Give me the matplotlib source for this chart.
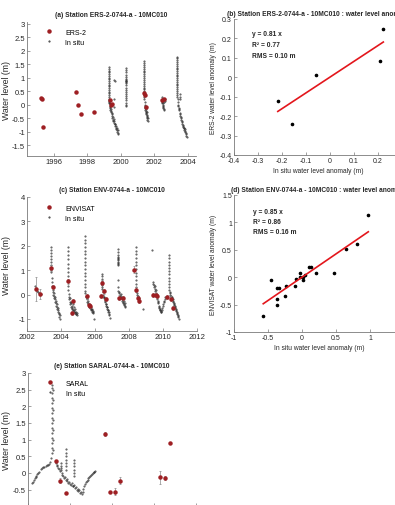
import matplotlib
matplotlib.use("Agg")
import matplotlib.pyplot as plt
from matplotlib.ticker import FuncFormatter, MultipleLocator

plt.rcParams['font.family'] = ['Liberation Sans', 'DejaVu Sans']
plt.rcParams['axes.unicode_minus'] = False

# ---------------- data ----------------
# (a) ERS-2 altimetry
ers_x = [1995.26, 1995.27, 1995.36, 1997.30, 1997.42, 1997.60, 1998.40, 1999.34, 1999.40, 1999.48,
         2001.42, 2001.44, 2001.50, 2002.46, 2002.56]
ers_y = [0.25, 0.20, -0.83, 0.48, -0.02, -0.35, -0.27, 0.16, 0.00, 0.02,
         0.43, 0.35, -0.09, 0.16, 0.22]

# (a) in situ
insitu_a_x = ([1999.29] * 20 +
              [1999.31, 1999.32, 1999.33, 1999.34, 1999.35, 1999.36, 1999.37, 1999.38, 1999.39, 1999.40,
               1999.42, 1999.43, 1999.45, 1999.46, 1999.48, 1999.50, 1999.51, 1999.53, 1999.55, 1999.57,
               1999.59, 1999.61, 1999.63, 1999.65, 1999.67, 1999.69, 1999.71, 1999.73, 1999.75, 1999.77,
               1999.79, 1999.81, 1999.83, 1999.84, 1999.62, 1999.64, 1999.60, 1999.62] +
              [2000.34] * 22 +
              [2001.38] * 18 +
              [2001.40, 2001.41, 2001.42, 2001.43, 2001.44, 2001.45, 2001.46, 2001.47, 2001.48, 2001.50,
               2001.51, 2001.52, 2001.53, 2001.54, 2001.55, 2001.56, 2001.57, 2001.58, 2001.59, 2001.60,
               2001.61, 2001.62] +
              [2002.45, 2002.46, 2002.47, 2002.48, 2002.49, 2002.50, 2002.51, 2002.52, 2002.53, 2002.55,
               2002.57, 2002.59, 2002.61, 2002.63, 2002.64] +
              [2003.35] * 22 +
              [2003.38, 2003.40, 2003.42, 2003.43, 2003.45, 2003.47, 2003.49, 2003.51, 2003.53, 2003.55,
               2003.57, 2003.59, 2003.61, 2003.63, 2003.65, 2003.67, 2003.69, 2003.71, 2003.73, 2003.75,
               2003.77, 2003.79, 2003.81, 2003.83, 2003.85, 2003.87, 2003.89, 2003.91, 2003.93, 2003.95,
               2003.55, 2003.56, 2003.57])
insitu_a_y = ([1.40, 1.34, 1.27, 1.21, 1.14, 1.08, 1.01, 0.95, 0.88, 0.82,
               0.75, 0.69, 0.62, 0.56, 0.49, 0.43, 0.36, 0.30, 0.23, 0.17] +
              [0.12, 0.08, 0.15, 0.02, -0.05, 0.05, -0.12, -0.08, -0.20, -0.15,
               -0.28, -0.22, -0.35, -0.30, -0.42, -0.50, -0.45, -0.55, -0.60, -0.52,
               -0.68, -0.62, -0.72, -0.78, -0.70, -0.85, -0.80, -0.90, -0.95, -0.88,
               -1.00, -1.05, -0.95, -1.10, 0.93, 0.90, 0.20, -0.10] +
              [1.35, 1.28, 1.20, 1.12, 1.04, 0.96, 0.92, 0.90, 0.88, 0.85, 0.80,
               0.72, 0.64, 0.56, 0.48, 0.40, 0.32, 0.24, 0.16, 0.08, 0.00, -0.03] +
              [1.62, 1.55, 1.48, 1.41, 1.34, 1.27, 1.20, 1.13, 1.06, 0.99,
               0.92, 0.85, 0.78, 0.71, 0.64, 0.57, 0.50, 0.43] +
              [0.38, 0.30, 0.20, 0.10, 0.00, -0.05, -0.12, -0.08, -0.18, -0.22,
               -0.15, -0.30, -0.26, -0.35, -0.28, -0.40, -0.45, -0.38, -0.50, -0.55,
               -0.48, -0.62] +
              [0.30, 0.22, 0.15, 0.10, 0.05, 0.00, -0.05, -0.10, 0.08, -0.12,
               -0.15, -0.20, 0.10, 0.20, 0.15] +
              [1.78, 1.72, 1.65, 1.58, 1.52, 1.45, 1.38, 1.32, 1.25, 1.18, 1.12,
               1.05, 0.98, 0.92, 0.85, 0.78, 0.72, 0.65, 0.58, 0.52, 0.45, 0.38] +
              [0.30, 0.20, 0.10, 0.00, -0.05, -0.12, -0.20, -0.15, -0.30, -0.35,
               -0.42, -0.50, -0.45, -0.58, -0.62, -0.70, -0.65, -0.78, -0.82, -0.75,
               -0.88, -0.92, -0.85, -0.98, -1.00, -0.90, -1.05, -1.10, -1.15, -1.20,
               0.40, 0.30, 0.20])

# (b) ERS-2 anomaly scatter
b_insitu = [-0.217, -0.156, -0.057, 0.210, 0.224]
b_alti = [-0.122, -0.238, 0.014, 0.082, 0.250]
b_slope = 0.81
b_stats = ["y = 0.81 x", "R² = 0.77", "RMS = 0.10 m"]

# (c) ENVISAT altimetry
env_x = [2002.52, 2002.74, 2003.40, 2003.50, 2004.43, 2004.62, 2004.70, 2005.53, 2005.65, 2005.73,
         2006.33, 2006.43, 2006.52, 2006.62, 2007.40, 2007.67, 2008.31, 2008.41, 2008.50, 2008.60,
         2009.44, 2009.57, 2009.65, 2010.25, 2010.45, 2010.60]
env_y = [0.22, 0.04, 1.09, 0.31, 0.55, -0.74, -0.26, -0.07, -0.41, -0.45,
         -0.04, 0.48, 0.14, -0.19, -0.12, -0.12, 1.02, 0.20, -0.12, -0.27,
         0.00, 0.00, -0.05, -0.10, -0.16, -0.55]
env_err = [0.50, 0.20, 0.12, 0.10, 0.10, 0.08, 0.10, 0.10, 0.08, 0.08,
           0.08, 0.10, 0.10, 0.08, 0.10, 0.08, 0.15, 0.10, 0.08, 0.08,
           0.08, 0.08, 0.08, 0.08, 0.10, 0.08]

# (c) in situ
insitu_c_x = ([2002.45, 2002.50, 2002.55, 2002.60, 2002.65, 2002.70, 2002.75, 2002.80] +
              [2003.40] * 10 +
              [2003.45, 2003.47, 2003.49, 2003.51, 2003.53, 2003.55, 2003.57, 2003.59, 2003.61, 2003.63,
               2003.65, 2003.67, 2003.69, 2003.71, 2003.73, 2003.75, 2003.77, 2003.79, 2003.81, 2003.83,
               2003.85, 2003.87, 2003.89, 2003.91, 2003.93, 2003.95] +
              [2004.41] * 12 +
              [2004.45, 2004.47, 2004.49, 2004.51, 2004.53, 2004.55, 2004.57, 2004.59, 2004.61, 2004.63,
               2004.65, 2004.67, 2004.69, 2004.71, 2004.73, 2004.75, 2004.77, 2004.79, 2004.81, 2004.83,
               2004.85, 2004.87, 2004.89, 2004.91, 2004.93, 2004.95] +
              [2005.40] * 16 +
              [2005.44, 2005.46, 2005.48, 2005.50, 2005.52, 2005.54, 2005.56, 2005.58, 2005.60, 2005.62,
               2005.64, 2005.66, 2005.68, 2005.70, 2005.72, 2005.74, 2005.76, 2005.78, 2005.80, 2005.82,
               2005.84, 2005.86, 2005.88, 2005.90, 2005.95] +
              [2006.40] * 7 +
              [2006.44, 2006.46, 2006.48, 2006.50, 2006.52, 2006.54, 2006.56, 2006.58, 2006.60, 2006.62,
               2006.64, 2006.66, 2006.68, 2006.70, 2006.72, 2006.74, 2006.76, 2006.78, 2006.80, 2006.82,
               2006.84, 2006.86] +
              [2007.38] * 14 +
              [2007.42, 2007.44, 2007.46, 2007.48, 2007.50, 2007.52, 2007.54, 2007.56, 2007.58, 2007.60,
               2007.62, 2007.64, 2007.66, 2007.68, 2007.70, 2007.72, 2007.74, 2007.76, 2007.78] +
              [2008.40] * 12 +
              [2008.42, 2008.44, 2008.46, 2008.48, 2008.50, 2008.52, 2008.54, 2008.56, 2008.58, 2008.60,
               2008.83] +
              [2009.37,
               2009.42, 2009.44, 2009.46, 2009.48, 2009.50, 2009.52, 2009.54, 2009.56, 2009.58, 2009.60,
               2009.62, 2009.64, 2009.66, 2009.68, 2009.70, 2009.72, 2009.74, 2009.76, 2009.78, 2009.80,
               2009.82, 2009.84, 2009.86, 2009.88, 2009.90, 2009.93, 2009.96, 2009.99, 2010.02, 2010.05,
               2010.08, 2010.11, 2010.14] +
              [2010.37] * 12 +
              [2010.40, 2010.42, 2010.44, 2010.46, 2010.48, 2010.50, 2010.52, 2010.54, 2010.56, 2010.58,
               2010.60, 2010.62, 2010.64, 2010.66, 2010.68, 2010.70, 2010.72, 2010.74, 2010.76, 2010.78,
               2010.80, 2010.82, 2010.84, 2010.86, 2010.88, 2010.90, 2010.93])
insitu_c_y = ([0.35, 0.28, 0.20, 0.15, 0.10, 0.05, 0.00, 0.02] +
              [1.95, 1.82, 1.70, 1.58, 1.46, 1.34, 1.22, 1.10, 1.00, 0.92] +
              [0.70, 0.50, 0.35, 0.20, 0.10, 0.00, -0.05, 0.05, -0.15, -0.20,
               -0.10, -0.30, -0.35, -0.25, -0.45, -0.50, -0.40, -0.60, -0.55, -0.70,
               -0.65, -0.80, -0.75, -0.90, -0.85, -1.02] +
              [1.95, 1.78, 1.61, 1.44, 1.27, 1.10, 0.93, 0.76, 0.60, 0.50, 0.35, 0.20] +
              [0.02, -0.10, -0.20, -0.15, -0.30, -0.40, -0.35, -0.50, -0.30, -0.45,
               -0.60, -0.55, -0.40, -0.62, -0.68, -0.50, -0.72, -0.65, -0.75, -0.58,
               -0.70, -0.78, -0.72, -0.80, -0.76, -0.82] +
              [2.40, 2.25, 2.10, 1.95, 1.80, 1.65, 1.50, 1.35, 1.20, 1.05, 0.90, 0.75, 0.60, 0.45, 0.30, 0.15] +
              [0.05, -0.05, -0.10, -0.20, -0.15, -0.30, -0.35, -0.25, -0.40, -0.45,
               -0.38, -0.50, -0.42, -0.55, -0.48, -0.60, -0.52, -0.65, -0.58, -0.70,
               -0.62, -0.72, -0.68, -0.75, -1.00] +
              [0.85, 0.75, 0.65, 0.55, 0.45, 0.38, 0.30] +
              [0.25, 0.10, 0.00, -0.08, -0.15, -0.10, -0.22, -0.30, -0.25, -0.38,
               -0.45, -0.40, -0.52, -0.58, -0.50, -0.65, -0.70, -0.62, -0.78, -0.72,
               -0.85, -0.95] +
              [1.87, 1.75, 1.62, 1.56, 1.50, 1.45, 1.40, 1.35, 1.30, 1.25, 1.20, 0.60, 0.30, 0.15] +
              [0.10, 0.05, 0.00, -0.05, 0.02, -0.10, -0.15, -0.08, -0.20, -0.25,
               -0.18, -0.30, -0.35, -0.28, -0.40, -0.42, -0.35, -0.48, -0.50] +
              [1.95, 1.80, 1.65, 1.50, 1.35, 1.20, 1.05, 0.90, 0.75, 0.60, 0.45, 0.32] +
              [0.25, 0.15, 0.08, 0.00, -0.05, -0.10, -0.15, -0.12, -0.22, -0.30, -0.60] +
              [1.83,
               0.52, 0.45, 0.38, 0.30, 0.35, 0.22, 0.15, 0.20, 0.08, 0.00,
               -0.10, -0.05, -0.20, -0.25, -0.35, -0.30, -0.45, -0.50, -0.55, -0.60,
               -0.65, -0.62, -0.70, -0.68, -0.71, -0.62, -0.55, -0.48, -0.40, -0.32,
               -0.25, -0.18, -0.10] +
              [1.61, 1.48, 1.35, 1.22, 1.09, 0.96, 0.83, 0.70, 0.57, 0.44, 0.30, 0.18] +
              [0.10, 0.05, 0.00, -0.05, -0.10, -0.15, -0.08, -0.20, -0.25, -0.18,
               -0.30, -0.35, -0.42, -0.38, -0.50, -0.55, -0.48, -0.62, -0.68, -0.60,
               -0.75, -0.80, -0.72, -0.88, -0.92, -0.85, -1.00])

# (d) ENVISAT anomaly scatter
d_insitu = [-0.57, -0.46, -0.37, -0.34, -0.37, -0.37, -0.24, -0.25, -0.11, -0.095, -0.03,
            -0.03, 0.01, 0.02, 0.05, 0.11, 0.13, 0.20, 0.47, 0.64, 0.81, 0.975]
d_alti = [-0.70, -0.05, -0.20, -0.20, -0.40, -0.50, -0.165, -0.35, -0.165, -0.03, 0.07,
          -0.005, 0.00, -0.055, 0.04, 0.195, 0.18, 0.07, 0.07, 0.52, 0.60, 1.14]
d_slope = 0.85
d_stats = ["y = 0.85 x", "R² = 0.86", "RMS = 0.16 m"]

# (e) SARAL altimetry
saral_x = [2013.66, 2013.77, 2013.90, 2014.83, 2014.96, 2015.07, 2015.19, 2016.14, 2016.25, 2016.38]
saral_y = [0.35, -0.23, -0.61, 1.17, -0.56, -0.56, -0.23, -0.13, -0.15, 0.89]
saral_err = [0.03, 0.08, 0.02, 0.05, 0.02, 0.10, 0.10, 0.20, 0.05, 0.02]

# (e) in situ
insitu_e_x = ([2013.10, 2013.12, 2013.14, 2013.16, 2013.18, 2013.20, 2013.22, 2013.24, 2013.26,
               2013.30, 2013.33, 2013.36, 2013.39, 2013.42, 2013.45, 2013.48, 2013.50, 2013.52, 2013.54] +
              [2013.57] * 15 + [2013.60] * 7 +
              [2013.66, 2013.68, 2013.70, 2013.72, 2013.74, 2013.76, 2013.78, 2013.80, 2013.82, 2013.84,
               2013.86, 2013.88, 2013.90, 2013.92, 2013.94, 2013.96, 2013.98, 2014.00, 2014.02, 2014.04,
               2014.06, 2014.08, 2014.10, 2014.12, 2014.14, 2014.16, 2014.18, 2014.20, 2014.22, 2014.24,
               2014.26, 2014.28] +
              [2013.78] * 3 + [2013.90] * 7 + [2014.10] * 6 +
              [2014.30, 2014.32, 2014.34, 2014.36, 2014.38, 2014.40, 2014.42, 2014.44, 2014.46, 2014.48,
               2014.50, 2014.52, 2014.54, 2014.56, 2014.58, 2014.60])
insitu_e_y = ([-0.31, -0.26, -0.22, -0.16, -0.12, -0.08, -0.03, 0.01, 0.04,
               0.11, 0.14, 0.17, 0.19, 0.21, 0.23, 0.25, 0.28, 0.33, 0.45] +
              [0.60, 0.75, 0.90, 1.05, 1.20, 1.35, 1.50, 1.65, 1.80, 1.95, 2.10, 2.25, 2.40, 2.55, 2.65] +
              [2.50, 2.20, 1.90, 1.60, 1.30, 1.00, 0.70] +
              [0.30, 0.22, 0.25, 0.15, 0.12, 0.05, 0.10, -0.05, 0.00, -0.10,
               -0.15, -0.12, -0.20, -0.25, -0.18, -0.30, -0.28, -0.32, -0.35, -0.30,
               -0.38, -0.40, -0.35, -0.45, -0.42, -0.50, -0.48, -0.55, -0.52, -0.60,
               -0.58, -0.62] +
              [0.30, 0.22, 0.15] +
              [0.73, 0.60, 0.50, 0.40, 0.30, 0.20, 0.10] +
              [0.40, 0.30, 0.20, 0.10, 0.00, -0.10] +
              [-0.56, -0.48, -0.40, -0.33, -0.28, -0.24, -0.20, -0.16, -0.12, -0.09,
               -0.06, -0.03, 0.00, 0.02, 0.04, 0.06])

titles = ["(a) Station ERS-2-0744-a - 10MC010",
          "(b) Station ERS-2-0744-a - 10MC010 : water level anomaly",
          "(c) Station ENV-0744-a - 10MC010",
          "(d) Station ENV-0744-a - 10MC010 : water level anomaly",
          "(e) Station SARAL-0744-a - 10MC010"]

# ---------------- figure ----------------
W, H = 395, 506
fig = plt.figure(figsize=(W / 100, H / 100), dpi=100)

RED = '#9e1f23'
TXT = '#262626'
SP = '#7a7a7a'
DOT = '#303030'


def mkax(l, r, t, b):
    return fig.add_axes([l / W, 1 - b / H, (r - l) / W, (b - t) / H])


fmt = FuncFormatter(lambda v, p: '%g' % round(v, 6))


def style(ax, fs):
    for s in ['top', 'right']:
        ax.spines[s].set_visible(False)
    for s in ['left', 'bottom']:
        ax.spines[s].set_color(SP)
        ax.spines[s].set_linewidth(0.6)
    ax.tick_params(direction='in', length=2, width=0.5, colors=SP, labelcolor=TXT,
                   labelsize=fs, pad=1.5)
    ax.xaxis.set_major_formatter(fmt)
    ax.yaxis.set_major_formatter(fmt)


def legend(ax, label, top):
    h1, = ax.plot([], [], ls='none', marker='o', ms=2.2, color=RED)
    h2, = ax.plot([], [], ls='none', marker='.', ms=1.0, color=DOT)
    ax.legend([h1, h2], [label, 'In situ'], loc='upper left', bbox_to_anchor=(0.089, top),
              frameon=False, fontsize=5, handlelength=2.0, handletextpad=1.3,
              labelspacing=0.45, borderpad=0, borderaxespad=0)


def left_ylabel(ax, l, r):
    ax.set_ylabel('Water level (m)', fontsize=6.3, color=TXT)
    ax.yaxis.set_label_coords((11 - l) / (r - l), 0.5)


# (a)
ax = mkax(27, 196, 23, 157)
style(ax, 5.5)
ax.plot(insitu_a_x, insitu_a_y, ls='none', marker='.', ms=1.0, color=DOT, alpha=0.85)
ax.plot(ers_x, ers_y, ls='none', marker='o', ms=2.2, color=RED)
ax.set_xlim(1994.4, 2004.5)
ax.set_ylim(-1.9, 3.07)
ax.xaxis.set_major_locator(MultipleLocator(2))
ax.yaxis.set_major_locator(MultipleLocator(0.5))
ax.set_title(titles[0], fontsize=4.8, fontweight='bold', color=TXT, pad=4)
left_ylabel(ax, 27, 196)
legend(ax, 'ERS-2', 0.951)

# (b)
ax = mkax(234, 401.5, 20, 156)
style(ax, 5)
ax.plot(b_insitu, b_alti, ls='none', marker='o', ms=1.6, color='black')
lx = [min(b_insitu), max(b_insitu)]
ax.plot(lx, [b_slope * v for v in lx], color='#e3161c', lw=1.2)
ax.set_xlim(-0.4, 0.3)
ax.set_ylim(-0.4, 0.3)
ax.xaxis.set_major_locator(MultipleLocator(0.1))
ax.yaxis.set_major_locator(MultipleLocator(0.1))
ax.set_title(titles[1], fontsize=4.8, fontweight='bold', color=TXT, pad=3)
ax.set_xlabel('In situ water level anomaly (m)', fontsize=4.8, color=TXT, labelpad=2)
ax.set_ylabel('ERS-2 water level anomaly (m)', fontsize=4.8, color=TXT, labelpad=2)
for s, yy in zip(b_stats, [0.89, 0.816, 0.735]):
    ax.text(0.107, yy, s, transform=ax.transAxes, fontsize=4.8, fontweight='bold',
            color=TXT, va='center')

# (c)
ax = mkax(27, 197, 198, 332.2)
style(ax, 5.5)
ax.plot(insitu_c_x, insitu_c_y, ls='none', marker='.', ms=1.0, color=DOT, alpha=0.85)
ax.errorbar(env_x, env_y, yerr=env_err, ls='none', ecolor='#8a8a8a', elinewidth=0.5,
            capsize=1, capthick=0.5)
ax.plot(env_x, env_y, ls='none', marker='o', ms=2.2, color=RED)
ax.set_xlim(2002, 2012)
ax.set_ylim(-1.5, 4)
ax.xaxis.set_major_locator(MultipleLocator(2))
ax.yaxis.set_major_locator(MultipleLocator(1))
ax.set_title(titles[2], fontsize=4.8, fontweight='bold', color=TXT, pad=4)
left_ylabel(ax, 27, 197)
legend(ax, 'ENVISAT', 0.944)

# (d)
ax = mkax(234, 404, 196, 333)
style(ax, 5)
ax.plot(d_insitu, d_alti, ls='none', marker='o', ms=1.6, color='black')
lx = [min(d_insitu), max(d_insitu)]
ax.plot(lx, [d_slope * v for v in lx], color='#e3161c', lw=1.2)
ax.set_xlim(-1, 1.5)
ax.set_ylim(-1, 1.5)
ax.xaxis.set_major_locator(MultipleLocator(0.5))
ax.yaxis.set_major_locator(MultipleLocator(0.5))
ax.set_title(titles[3], fontsize=4.8, fontweight='bold', color=TXT, pad=3)
ax.set_xlabel('In situ water level anomaly (m)', fontsize=4.8, color=TXT, labelpad=2)
ax.set_ylabel('ENVISAT water level anomaly (m)', fontsize=4.8, color=TXT, labelpad=2)
for s, yy in zip(d_stats, [0.883, 0.81, 0.73]):
    ax.text(0.112, yy, s, transform=ax.transAxes, fontsize=4.8, fontweight='bold',
            color=TXT, va='center')

# (e)
ax = mkax(28, 196, 374, 507.3)
style(ax, 5.5)
ax.plot(insitu_e_x, insitu_e_y, ls='none', marker='.', ms=1.0, color=DOT, alpha=0.85)
ax.errorbar(saral_x, saral_y, yerr=saral_err, ls='none', ecolor='#8a8a8a', elinewidth=0.5,
            capsize=1, capthick=0.5)
ax.plot(saral_x, saral_y, ls='none', marker='o', ms=2.2, color=RED)
ax.set_xlim(2013, 2017)
ax.set_ylim(-1, 3)
ax.xaxis.set_major_locator(MultipleLocator(1))
ax.yaxis.set_major_locator(MultipleLocator(0.5))
ax.set_title(titles[4], fontsize=4.8, fontweight='bold', color=TXT, pad=4)
left_ylabel(ax, 28, 196)
legend(ax, 'SARAL', 0.951)

fig.savefig('out.png', dpi=100)
